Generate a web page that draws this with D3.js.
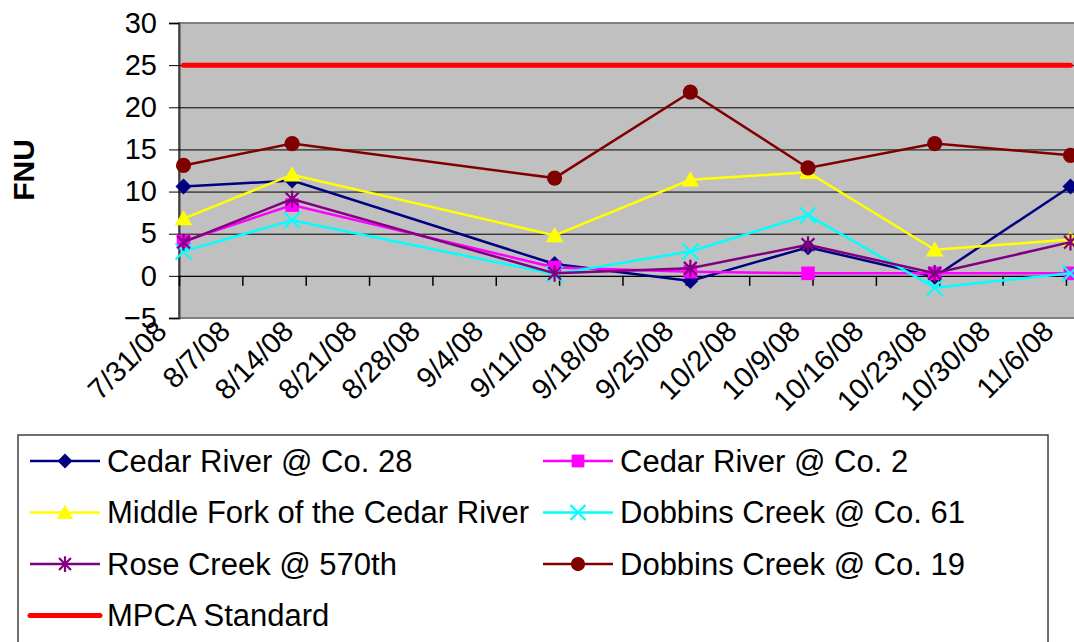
<!DOCTYPE html>
<html>
<head>
<meta charset="utf-8">
<script src="https://cdn.jsdelivr.net/npm/d3@7"></script>
<style>
  body { margin: 0; background: #fff; }
  text { font-family: Arial, "Liberation Sans", sans-serif; }
</style>
</head>
<body>
<div id="chart"></div>
<script>
// sample dates and readings (FNU)
const dates = ["2008-07-31", "2008-08-12", "2008-09-10", "2008-09-25", "2008-10-08", "2008-10-22", "2008-11-06"];
const cedar28 = [10.6, 11.3, 1.4, -0.6, 3.4, -0.1, 10.6];
const cedar2 = [4.1, 8.4, 1.0, 0.5, 0.3, 0.3, 0.3];
const middleFork = [6.8, 12.0, 4.8, 11.4, 12.3, 3.1, 4.3];
const dobbins61 = [2.9, 6.6, 0.2, 2.9, 7.2, -1.4, 0.3];
const rose570 = [4.0, 9.1, 0.3, 0.9, 3.7, 0.3, 4.0];
const dobbins19 = [13.1, 15.7, 11.6, 21.8, 12.8, 15.7, 14.3];
const mpca = [25, 25, 25, 25, 25, 25, 25];

const seriesNames = ["Cedar River @ Co. 28", "Cedar River @ Co. 2", "Middle Fork of the Cedar River",
  "Dobbins Creek @ Co. 61", "Rose Creek @ 570th", "Dobbins Creek @ Co. 19", "MPCA Standard"];
const seriesValues = [cedar28, cedar2, middleFork, dobbins61, rose570, dobbins19, mpca];
const seriesColors = ["#000080", "#FF00FF", "#FFFF00", "#00FFFF", "#800080", "#800000", "#FF0000"];
const seriesMarkers = ["diamond", "square", "triangle", "x", "star", "circle", null];

const tickLabels = ["7/31/08", "8/7/08", "8/14/08", "8/21/08", "8/28/08", "9/4/08", "9/11/08", "9/18/08",
  "9/25/08", "10/2/08", "10/9/08", "10/16/08", "10/23/08", "10/30/08", "11/6/08"];
const yTicks = [-5, 0, 5, 10, 15, 20, 25, 30];

const width = 1074, height = 642;
const plot = {left: 179, top: 23, right: 1075, bottom: 318};

const parseDate = d3.utcParse("%Y-%m-%d");
const parseTick = d3.utcParse("%m/%d/%y");
const tickDates = tickLabels.map(parseTick);

// excel date axis: each day is a band, points sit in the middle
const x = d3.scaleUtc()
    .domain([tickDates[0], d3.utcDay.offset(tickDates[tickDates.length - 1], 1)])
    .range([plot.left, plot.right]);
const xPoint = d => x(d3.utcHour.offset(parseDate(d), 12));
const y = d3.scaleLinear().domain([-5, 30]).range([plot.bottom, plot.top]);

const svg = d3.select("#chart").append("svg")
    .attr("width", width)
    .attr("height", height);

// plot area
svg.append("rect")
    .attr("x", plot.left).attr("y", plot.top)
    .attr("width", plot.right - plot.left).attr("height", plot.bottom - plot.top)
    .attr("fill", "#C0C0C0")
    .attr("stroke", "#808080")
    .attr("stroke-width", 2);

// y axis + gridlines
svg.append("g")
    .attr("transform", `translate(${plot.left},0)`)
    .call(d3.axisLeft(y).tickValues(yTicks).tickSize(10).tickPadding(12).tickFormat(d3.format("d")))
    .call(g => g.select(".domain").attr("stroke", "#404040").attr("stroke-width", 2))
    .call(g => g.selectAll(".tick line").attr("stroke", "#000"))
    .call(g => g.selectAll(".tick text").attr("font-size", 29).attr("fill", "#000"))
    .call(g => g.selectAll(".tick").filter(d => d > -5 && d < 30).append("line")
        .attr("x2", plot.right - plot.left)
        .attr("stroke", "#000")
        .attr("stroke-width", 1));

// x axis crosses at 0
svg.append("g")
    .attr("transform", `translate(0,${y(0)})`)
    .call(d3.axisBottom(x).tickValues(tickDates).tickSize(10).tickFormat(""))
    .call(g => g.select(".domain").attr("stroke", "#000"))
    .call(g => g.selectAll(".tick line").attr("stroke", "#000").attr("stroke-width", 1.5));

// rotated date labels under the plot
svg.append("g")
    .attr("transform", `translate(0,${plot.bottom})`)
    .call(d3.axisBottom(x).tickValues(tickDates).tickSize(0).tickFormat((d, i) => tickLabels[i]))
    .call(g => g.select(".domain").remove())
    .call(g => g.selectAll(".tick text")
        .attr("font-size", 29)
        .attr("fill", "#000")
        .attr("x", 0).attr("y", 0).attr("dy", null)
        .attr("text-anchor", "end")
        .attr("transform", "translate(-11,15) rotate(-45)"));

// y title
svg.append("text")
    .attr("transform", "translate(34,170) rotate(-90)")
    .attr("text-anchor", "middle")
    .attr("font-size", 30)
    .attr("font-weight", "bold")
    .text("FNU");

function marker(g, type, color, s) {
  if (type === "diamond") {
    g.append("path").attr("d", `M0,${-s}L${s},0L0,${s}L${-s},0Z`).attr("fill", color);
  } else if (type === "square") {
    g.append("rect").attr("x", -s * 0.85).attr("y", -s * 0.85).attr("width", s * 1.7).attr("height", s * 1.7).attr("fill", color);
  } else if (type === "triangle") {
    g.append("path").attr("d", `M0,${-s * 1.05}L${s * 1.1},${s * 0.85}L${-s * 1.1},${s * 0.85}Z`).attr("fill", color);
  } else if (type === "x") {
    g.append("path").attr("d", `M${-s},${-s}L${s},${s}M${-s},${s}L${s},${-s}`)
        .attr("stroke", color).attr("stroke-width", 2.2).attr("fill", "none");
  } else if (type === "star") {
    const r = s * 0.8;
    g.append("path").attr("d", `M0,${-s * 1.05}L0,${s * 1.05}M${-r},${-r}L${r},${r}M${-r},${r}L${r},${-r}`)
        .attr("stroke", color).attr("stroke-width", 2.2).attr("fill", "none");
  } else if (type === "circle") {
    g.append("circle").attr("r", s * 0.95).attr("fill", color);
  }
}

const line = d3.line().x((d, i) => xPoint(dates[i])).y(d => y(d));

seriesValues.forEach((vals, k) => {
  const g = svg.append("g");
  g.append("path")
      .datum(vals)
      .attr("d", line)
      .attr("fill", "none")
      .attr("stroke", seriesColors[k])
      .attr("stroke-width", seriesMarkers[k] ? 2.5 : 5)
      .attr("stroke-linecap", seriesMarkers[k] ? "butt" : "round");
  if (seriesMarkers[k]) {
    vals.forEach((v, i) => {
      const m = g.append("g").attr("transform", `translate(${xPoint(dates[i])},${y(v)})`);
      marker(m, seriesMarkers[k], seriesColors[k], 8);
    });
  }
});

// legend
const legend = svg.append("g");
legend.append("rect")
    .attr("x", 18).attr("y", 435)
    .attr("width", 1030).attr("height", 240)
    .attr("fill", "#fff")
    .attr("stroke", "#404040")
    .attr("stroke-width", 1.5);

seriesNames.forEach((name, i) => {
  const x0 = i % 2 === 0 ? 30 : 543;
  const yy = 461 + Math.floor(i / 2) * 51.5;
  const item = legend.append("g").attr("transform", `translate(${x0},${yy})`);
  item.append("line")
      .attr("x1", 0).attr("x2", 70)
      .attr("stroke", seriesColors[i])
      .attr("stroke-width", seriesMarkers[i] ? 2.5 : 5)
      .attr("stroke-linecap", seriesMarkers[i] ? "butt" : "round");
  if (seriesMarkers[i]) {
    marker(item.append("g").attr("transform", "translate(35,0)"), seriesMarkers[i], seriesColors[i], 7.5);
  }
  item.append("text")
      .attr("x", 77)
      .attr("dy", "0.35em")
      .attr("font-size", 31)
      .text(name);
});
</script>
</body>
</html>
